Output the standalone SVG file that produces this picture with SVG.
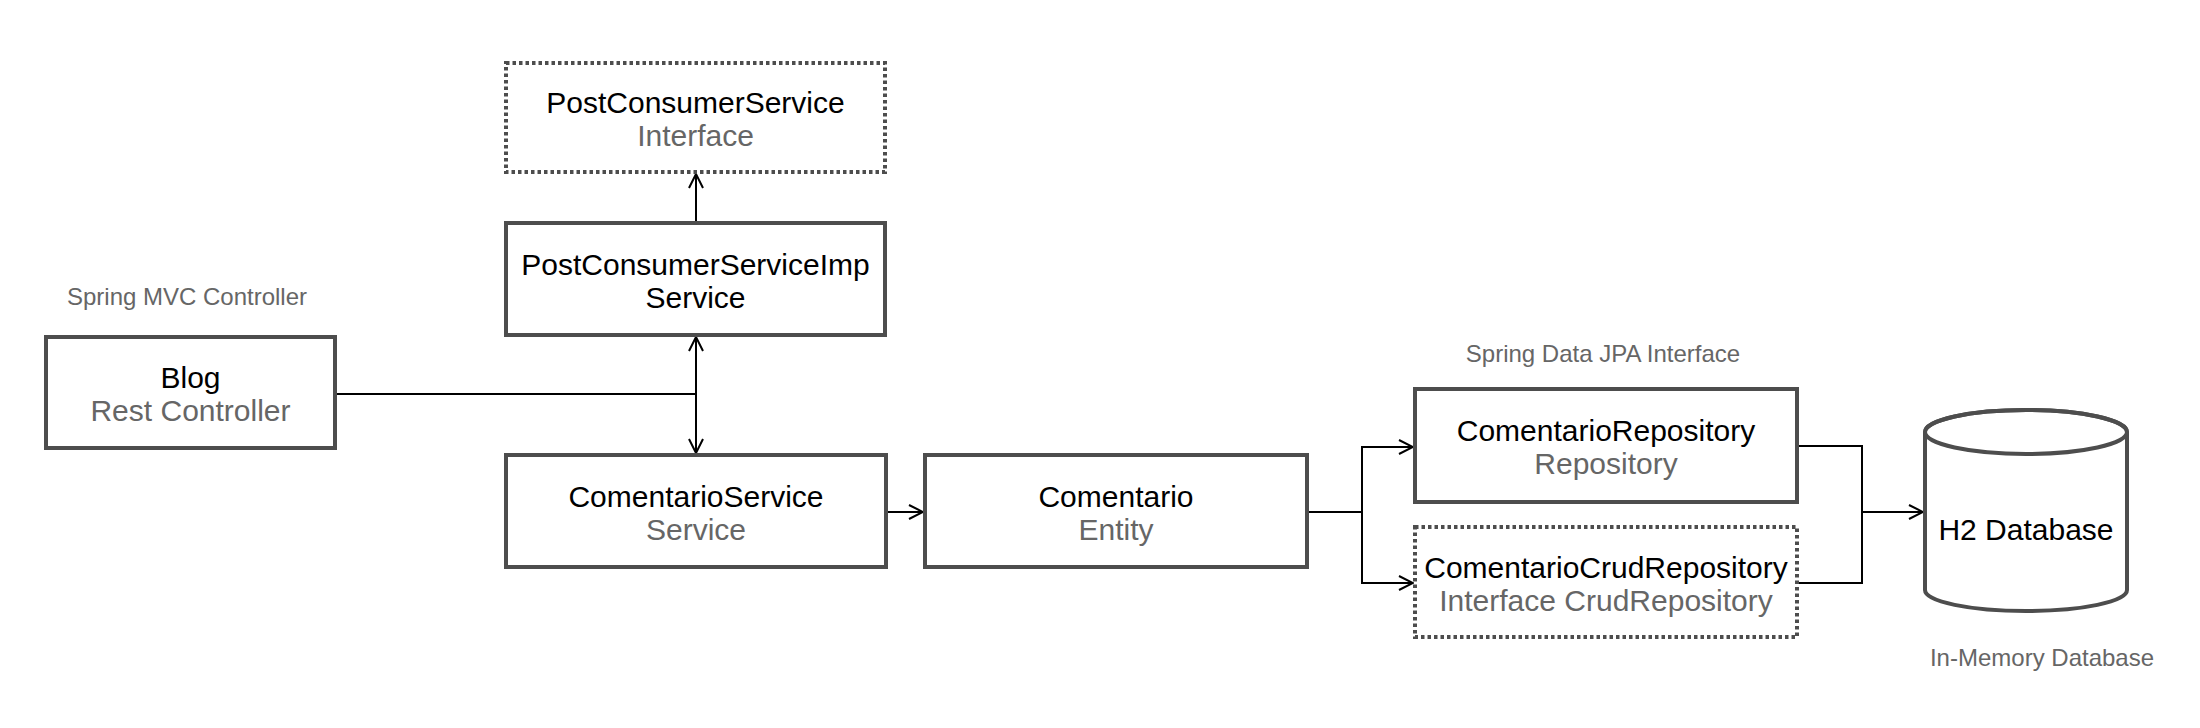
<svg xmlns="http://www.w3.org/2000/svg" width="2200" height="728" viewBox="0 0 2200 728">
  <style>
    .box { fill: #ffffff; stroke: #4d4d4d; stroke-width: 4; }
    .dot { stroke-dasharray: 3.5 3; }
    .t { font-family: "Liberation Sans", Arial, Helvetica, sans-serif; font-size: 30px; text-anchor: middle; fill: #000000; }
    .s { fill: #666666; }
    .lbl { font-family: "Liberation Sans", Arial, Helvetica, sans-serif; font-size: 24px; text-anchor: middle; fill: #666666; }
    .c { fill: none; stroke: #000000; stroke-width: 2; }
  </style>
  <defs>
    <marker id="arr" viewBox="0 0 16 16" refX="15" refY="8" markerWidth="16" markerHeight="16" markerUnits="userSpaceOnUse" orient="auto">
      <path d="M1,1 L15,8 L1,15" fill="none" stroke="#000000" stroke-width="2"/>
    </marker>
  </defs>
  <rect width="2200" height="728" fill="#ffffff"/>

  <g id="connectors">
    <path class="c" d="M696,223 L696,174" marker-end="url(#arr)"/>
    <path class="c" d="M335,394 L696,394"/>
    <path class="c" d="M696,394 L696,337" marker-end="url(#arr)"/>
    <path class="c" d="M696,394 L696,453" marker-end="url(#arr)"/>
    <path class="c" d="M886,512 L923,512" marker-end="url(#arr)"/>
    <path class="c" d="M1307,512 L1362,512 L1362,447 L1413,447" marker-end="url(#arr)"/>
    <path class="c" d="M1362,512 L1362,583 L1413,583" marker-end="url(#arr)"/>
    <path class="c" d="M1797,446 L1862,446 L1862,512 L1923,512" marker-end="url(#arr)"/>
    <path class="c" d="M1797,583 L1862,583 L1862,512"/>
  </g>

  <g id="label-mvc"><text class="lbl" x="187" y="305">Spring MVC Controller</text></g>
  <g id="label-jpa"><text class="lbl" x="1603" y="362">Spring Data JPA Interface</text></g>
  <g id="label-mem"><text class="lbl" x="2042" y="666">In-Memory Database</text></g>

  <g id="post-consumer-service">
    <rect class="box dot" x="506" y="63" width="379" height="109"/>
    <text class="t" x="695.5" y="113">PostConsumerService</text>
    <text class="t s" x="695.5" y="146">Interface</text>
  </g>

  <g id="post-consumer-service-imp">
    <rect class="box" x="506" y="223" width="379" height="112"/>
    <text class="t" x="695.5" y="274.5">PostConsumerServiceImp</text>
    <text class="t" x="695.5" y="307.5">Service</text>
  </g>

  <g id="blog">
    <rect class="box" x="46" y="337" width="289" height="111"/>
    <text class="t" x="190.5" y="388">Blog</text>
    <text class="t s" x="190.5" y="421">Rest Controller</text>
  </g>

  <g id="comentario-service">
    <rect class="box" x="506" y="455" width="380" height="112"/>
    <text class="t" x="696" y="506.5">ComentarioService</text>
    <text class="t s" x="696" y="539.5">Service</text>
  </g>

  <g id="comentario">
    <rect class="box" x="925" y="455" width="382" height="112"/>
    <text class="t" x="1116" y="506.5">Comentario</text>
    <text class="t s" x="1116" y="539.5">Entity</text>
  </g>

  <g id="comentario-repository">
    <rect class="box" x="1415" y="389" width="382" height="113"/>
    <text class="t" x="1606" y="441">ComentarioRepository</text>
    <text class="t s" x="1606" y="474">Repository</text>
  </g>

  <g id="comentario-crud-repository">
    <rect class="box dot" x="1415" y="527" width="382" height="110"/>
    <text class="t" x="1606" y="577.5">ComentarioCrudRepository</text>
    <text class="t s" x="1606" y="610.5">Interface CrudRepository</text>
  </g>

  <g id="h2-database">
    <path class="box" d="M1925,432 L1925,590 A101,21 0 0 0 2127,590 L2127,432 A101,22 0 0 0 1925,432 Z"/>
    <ellipse cx="2026" cy="432" rx="101" ry="22" fill="none" stroke="#4d4d4d" stroke-width="4"/>
    <text class="t" x="2026" y="540">H2 Database</text>
  </g>
</svg>
